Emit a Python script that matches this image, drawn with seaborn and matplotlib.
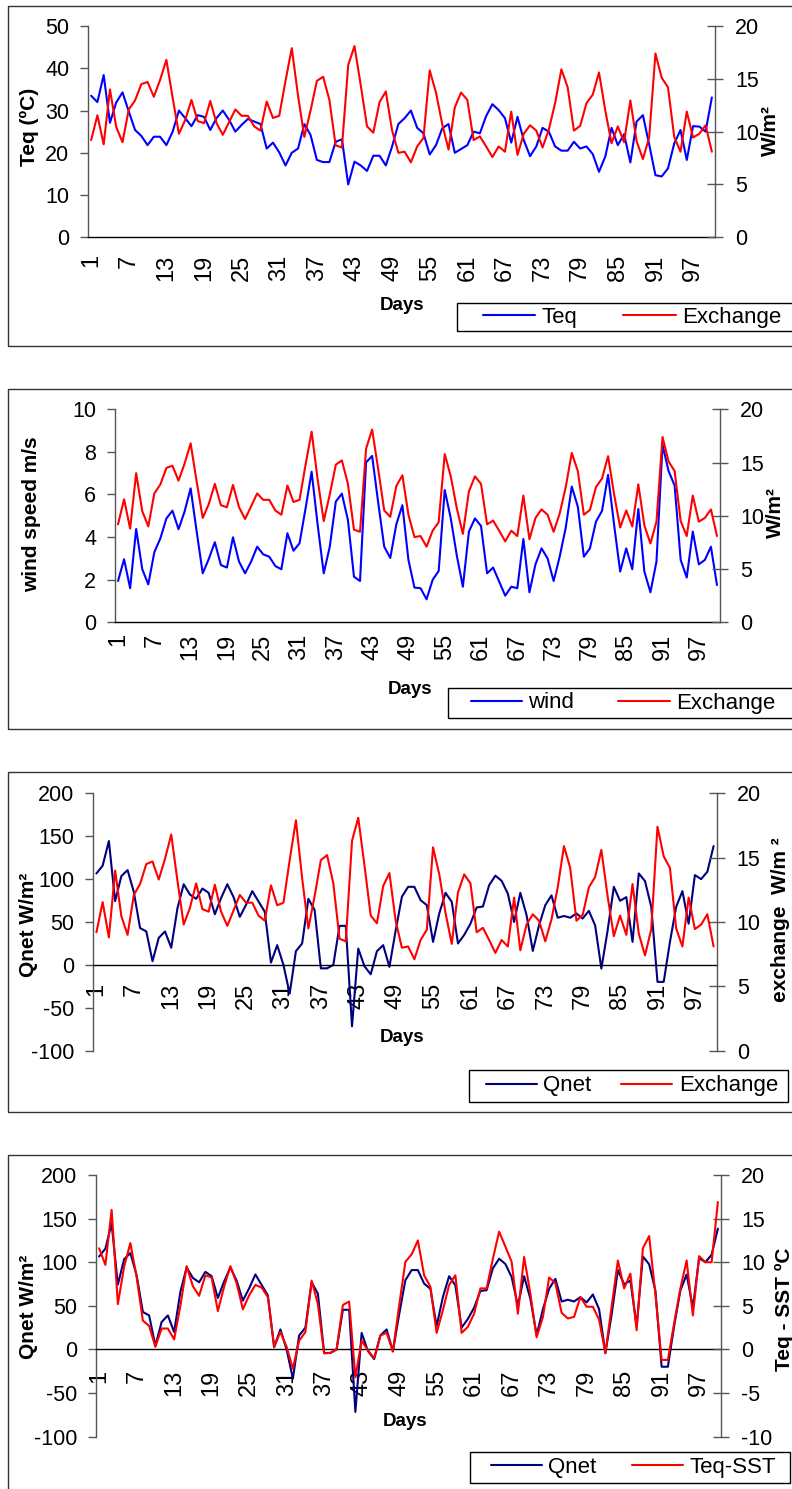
import numpy as np
import pandas as pd
import matplotlib
matplotlib.use("Agg")
import matplotlib.pyplot as plt
import matplotlib.patches as mpatches
from matplotlib.lines import Line2D
import seaborn as sns

# ---------------- data ----------------
days = list(range(1, 101))
tick_days = list(range(1, 100, 6))
tick_labels = [str(d) for d in tick_days]

teq = [33.5, 32.0, 38.4, 27.1, 31.9, 34.3, 29.8, 25.4, 24.0, 21.8,
       23.8, 23.8, 21.8, 25.0, 30.0, 28.2, 26.3, 28.9, 28.5, 25.4,
       28.2, 30.0, 27.8, 25.0, 26.6, 28.0, 27.4, 26.8, 21.0, 22.4,
       20.1, 17.0, 20.0, 21.0, 26.8, 24.2, 18.3, 17.8, 17.8, 22.6,
       23.2, 12.5, 17.9, 17.0, 15.7, 19.3, 19.3, 17.0, 21.5, 26.8,
       28.2, 30.0, 25.9, 24.6, 19.6, 21.8, 25.8, 26.8, 20.0, 20.9,
       21.8, 25.0, 24.6, 28.7, 31.5, 30.1, 28.2, 22.4, 28.5, 23.0,
       19.2, 21.5, 25.9, 25.0, 21.5, 20.5, 20.5, 22.6, 21.0, 21.5,
       19.7, 15.5, 19.1, 25.9, 21.8, 24.4, 17.7, 27.4, 28.9, 22.0,
       14.7, 14.4, 16.3, 22.2, 25.4, 18.3, 26.3, 26.2, 25.0, 33.1]

exchange = [9.2, 11.55, 8.8, 14.0, 10.45, 9.0, 12.1, 12.95, 14.5, 14.7,
            13.3, 14.9, 16.8, 13.2, 9.8, 11.1, 13.0, 11.0, 10.8, 12.9,
            10.8, 9.7, 10.9, 12.1, 11.5, 11.5, 10.5, 10.1, 12.85, 11.3,
            11.5, 14.8, 17.9, 13.4, 9.5, 12.0, 14.8, 15.2, 13.0, 8.7,
            8.5, 16.3, 18.1, 14.4, 10.5, 9.9, 12.8, 13.8, 10.1, 8.0,
            8.1, 7.1, 8.6, 9.4, 15.8, 13.7, 10.7, 8.3, 12.3, 13.7,
            13.0, 9.2, 9.55, 8.6, 7.6, 8.6, 8.1, 11.9, 7.8, 9.8,
            10.6, 10.1, 8.5, 10.2, 12.7, 15.9, 14.2, 10.1, 10.55, 12.7,
            13.5, 15.6, 12.0, 8.9, 10.5, 9.0, 12.95, 9.1, 7.4, 9.45,
            17.4, 15.1, 14.2, 9.5, 8.1, 11.9, 9.45, 9.8, 10.6, 8.1]

wind = [1.94, 2.96, 1.6, 4.38, 2.5, 1.78, 3.29, 3.94, 4.88, 5.24,
        4.37, 5.2, 6.29, 4.26, 2.3, 2.97, 3.76, 2.69, 2.57, 3.99,
        2.85, 2.3, 2.85, 3.55, 3.19, 3.08, 2.64, 2.49, 4.18, 3.36,
        3.71, 5.35, 7.07, 4.57, 2.3, 3.55, 5.67, 6.04, 4.8, 2.14,
        1.94, 7.51, 7.81, 5.63, 3.55, 3.02, 4.6, 5.5, 2.93, 1.63,
        1.6, 1.08, 1.99, 2.41, 6.21, 4.88, 3.13, 1.67, 4.26, 4.88,
        4.52, 2.3, 2.57, 1.91, 1.25, 1.67, 1.6, 3.91, 1.41, 2.72,
        3.47, 3.0, 1.94, 3.08, 4.44, 6.37, 5.43, 3.08, 3.47, 4.73,
        5.23, 6.92, 4.57, 2.38, 3.47, 2.49, 5.32, 2.38, 1.41, 2.85,
        8.33, 7.1, 6.42, 2.93, 2.1, 4.26, 2.72, 2.93, 3.55, 1.75]

qnet = [106.6, 115.6, 144.4, 74.3, 103.5, 110.5, 85, 43, 39, 4.3,
        31.5, 39, 20, 66, 94, 82, 77, 89, 84, 59,
        78, 94, 79, 56, 70, 86, 74, 62, 2.7, 23,
        0, -33.5, 16, 25, 77, 64, -4, -4, 0, 45.5,
        45.5, -71.6, 19, -1.6, -11, 16, 23, -2.3, 40, 79.4,
        91, 91, 75.5, 69.6, 26.8, 60, 84, 73.5, 25, 35,
        48, 67, 68, 93, 104, 98, 83, 50, 84, 58,
        16.3, 46, 69.6, 81, 55, 57, 55, 60, 54, 63,
        46, -4.3, 40, 91, 74.7, 79, 26.8, 106.6, 97.7, 67.7,
        -19.8, -19.8, 26.8, 67.7, 86, 48, 104.7, 100, 108.6, 138.5]

teq_sst = [11.6, 9.7, 16.0, 5.2, 9.5, 12.2, 8.3, 3.3, 2.7, 0.3,
           2.4, 2.4, 1.15, 5.0, 9.55, 7.26, 6.15, 8.5, 8.25, 4.4,
           7.2, 9.55, 7.6, 4.6, 6.2, 7.4, 7.1, 6.0, 0.3, 2.0,
           0.3, -2.2, 1.0, 2.0, 7.9, 5.2, -0.45, -0.4, 0.05, 5.1,
           5.5, -3.2, 1.0, -0.1, -1.0, 1.6, 1.9, -0.2, 5.0, 10.05,
           10.9, 12.5, 8.5, 7.2, 1.9, 4.5, 7.4, 8.5, 1.9, 2.6,
           4.1, 7.0, 7.0, 10.4, 13.5, 11.8, 10.05, 4.1, 10.6, 6.4,
           1.4, 3.7, 8.25, 7.6, 4.2, 3.55, 3.75, 6.0, 4.9, 4.9,
           3.4, -0.4, 4.9, 10.2, 7.0, 8.7, 2.2, 11.6, 13.0, 6.4,
           -1.2, -1.2, 3.0, 7.0, 10.2, 3.9, 10.7, 10.0, 10.0, 16.9]

# ---------------- style ----------------
sns.set_theme(style="white")
plt.rcParams["font.family"] = ["Liberation Sans", "DejaVu Sans"]
plt.rcParams["axes.unicode_minus"] = False
plt.rcParams["text.color"] = "black"
plt.rcParams["axes.labelcolor"] = "black"
plt.rcParams["xtick.color"] = "black"
plt.rcParams["ytick.color"] = "black"

W, H = 792, 1489
fig = plt.figure(figsize=(W / 100, H / 100), dpi=100)
fig.patch.set_facecolor("white")

BLUE = "#0000FF"
NAVY = "#000080"
RED = "#FF0000"
AXC = "#555555"
LW = 1.5
YTICK_FS = 15.5
XTICK_FS = 17
YLAB_FS = 15
XLAB_FS = 13.5
LEG_FS = 16
LEG_PX = LEG_FS * 100 / 72.0


def fx(px):
    return px / W


def fy(py):
    return 1 - py / H


def axpos(l, r, t, b):
    return [l / W, 1 - b / H, (r - l) / W, (b - t) / H]


def frame(top, bottom):
    fig.patches.append(mpatches.Rectangle((fx(8.3), fy(bottom)), fx(810 - 8.3),
                                          (bottom - top) / H, transform=fig.transFigure,
                                          fill=False, ec="#333333", lw=1.0))


def legend_box(x0, x1, y0, y1, entries):
    fig.patches.append(mpatches.Rectangle((fx(x0), fy(y1)), fx(x1 - x0), (y1 - y0) / H,
                                          transform=fig.transFigure, fill=False,
                                          ec="black", lw=1.0))
    yc = (y0 + y1) / 2
    for (xs, xe, xt, color, label) in entries:
        h = Line2D([0], [0], color=color, lw=LW)
        fig.legend([h], [label], loc="center left",
                   bbox_to_anchor=(fx(xs), fy(yc)), frameon=False,
                   borderpad=0, borderaxespad=0,
                   handlelength=(xe - xs) / LEG_PX,
                   handletextpad=(xt - xe) / LEG_PX,
                   fontsize=LEG_FS, labelcolor="black")


def make_panel(pos, left_vals, right_vals, left_color, left_lim, left_ticks,
               right_lim, right_ticks, zero_axis, xpad_px,
               left_label, left_lab_xy, right_label, right_lab_xy, days_xy):
    ax = fig.add_axes(axpos(*pos))
    ax.set_facecolor("none")
    if zero_axis:
        ax.spines["bottom"].set_position(("data", 0))
    df = pd.DataFrame({"day": days, "left": left_vals, "right": right_vals})
    sns.lineplot(data=df, x="day", y="left", ax=ax, color=left_color, lw=LW,
                 legend=False)
    ax2 = ax.twinx()
    sns.lineplot(data=df, x="day", y="right", ax=ax2, color=RED, lw=LW,
                 legend=False)

    ax.set_xlim(0.5, 100.5)
    ax.set_ylim(*left_lim)
    ax.set_yticks(list(left_ticks))
    ax2.set_ylim(*right_lim)
    ax2.set_yticks(list(right_ticks))
    ax.set_xticks(tick_days)
    ax.set_xticklabels(tick_labels, rotation=90, fontsize=XTICK_FS,
                       va="top", ha="center")

    for s in ["top", "right"]:
        ax.spines[s].set_visible(False)
    for s in ["top", "left", "bottom"]:
        ax2.spines[s].set_visible(False)
    ax.spines["left"].set_color(AXC)
    ax.spines["left"].set_linewidth(1.0)
    ax2.spines["right"].set_color(AXC)
    ax2.spines["right"].set_linewidth(1.0)
    ax.spines["bottom"].set_color("black")
    ax.spines["bottom"].set_linewidth(1.0)

    ax.tick_params(axis="y", direction="out", length=6, width=1.0, color=AXC,
                   pad=7.5, labelsize=YTICK_FS, labelcolor="black")
    ax2.tick_params(axis="y", direction="inout", length=11, width=1.0, color=AXC,
                    pad=9, labelsize=YTICK_FS, labelcolor="black")
    ax.tick_params(axis="x", length=0, pad=xpad_px * 0.72, labelcolor="black")
    ax.grid(False)
    ax2.grid(False)

    ax.set_ylabel(left_label, fontsize=YLAB_FS, fontweight="bold")
    ax.yaxis.set_label_coords(fx(left_lab_xy[0]), fy(left_lab_xy[1]),
                              transform=fig.transFigure)
    ax.yaxis.label.set_verticalalignment("center")
    ax.yaxis.label.set_horizontalalignment("center")
    ax2.set_ylabel(right_label, fontsize=YLAB_FS, fontweight="bold", rotation=90)
    ax2.yaxis.set_label_coords(fx(right_lab_xy[0]), fy(right_lab_xy[1]),
                               transform=fig.transFigure)
    ax2.yaxis.label.set_verticalalignment("center")
    ax2.yaxis.label.set_horizontalalignment("center")
    ax.set_xlabel("Days", fontsize=XLAB_FS, fontweight="bold")
    ax.xaxis.set_label_coords(fx(days_xy[0]), fy(days_xy[1]),
                              transform=fig.transFigure)
    ax.xaxis.label.set_verticalalignment("center")
    return ax, ax2


# ---------------- panel 1 ----------------
frame(6, 345.7)
make_panel((88, 715, 26, 237.3), teq, exchange, BLUE, (0, 50), range(0, 51, 10),
           (0, 20), range(0, 21, 5), False, 17,
           "Teq (ºC)", (29, 127), "W/m²", (770, 131), (402, 305))
legend_box(457, 810, 303, 331,
           [(483, 535, 542, BLUE, "Teq"), (623, 676, 682, RED, "Exchange")])

# ---------------- panel 2 ----------------
frame(389, 729)
make_panel((115, 720, 409.3, 622.3), wind, exchange, BLUE, (0, 10), range(0, 11, 2),
           (0, 20), range(0, 21, 5), False, 11,
           "wind speed m/s", (31.5, 514), "W/m²", (775, 512), (410, 690))
legend_box(448, 810, 688, 718,
           [(471, 522, 528, BLUE, "wind"), (618, 670, 676, RED, "Exchange")])

# ---------------- panel 3 ----------------
frame(772, 1111.7)
make_panel((93.3, 716.7, 793.3, 1050.7), qnet, exchange, NAVY, (-100, 200),
           range(-100, 201, 50), (0, 20), range(0, 21, 5), True, 18,
           "Qnet W/m²", (28, 925), "exchange  W/m ²", (780, 920), (402, 1037))
legend_box(469, 788, 1070, 1102,
           [(486, 537, 543, NAVY, "Qnet"), (621, 672, 679, RED, "Exchange")])

# ---------------- panel 4 ----------------
frame(1155, 1500)
make_panel((96, 721, 1175, 1436.7), qnet, teq_sst, NAVY, (-100, 200),
           range(-100, 201, 50), (-10, 20), range(-10, 21, 5), True, 20,
           "Qnet W/m²", (28, 1307), "Teq - SST ºC", (784, 1309), (405, 1422))
legend_box(470, 790, 1452, 1483,
           [(491, 542, 548, NAVY, "Qnet"), (632, 683, 690, RED, "Teq-SST")])

fig.savefig("out.png", dpi=100, facecolor="white")
